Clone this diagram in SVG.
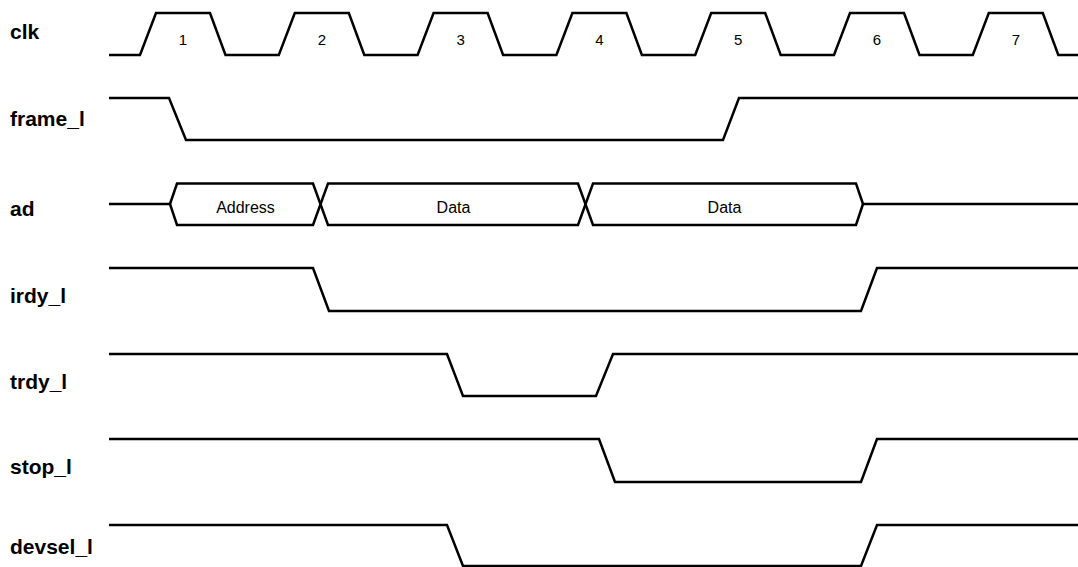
<svg xmlns="http://www.w3.org/2000/svg" width="1078" height="567" viewBox="0 0 1078 567">
<style>
.w{fill:none;stroke:#000;stroke-width:2.5;stroke-linejoin:miter}
.lbl{font-family:"Liberation Sans",Arial,sans-serif;font-weight:bold;font-size:21px;fill:#000}
.num{font-family:"Liberation Sans",Arial,sans-serif;font-size:15px;fill:#000;text-anchor:middle}
.dat{font-family:"Liberation Sans",Arial,sans-serif;font-size:16px;fill:#000;text-anchor:middle}
</style>
<rect width="1078" height="567" fill="#fff"/>
<g id="clk">
<text class="lbl" x="10" y="39">clk</text>
<path class="w" d="M109,55 L140,55 L156,13 L210,13 L225.5,55 L278.8,55 L294.8,13 L348.8,13 L364.3,55 L417.6,55 L433.6,13 L487.6,13 L503.1,55 L556.4,55 L572.4,13 L626.4,13 L641.9,55 L695.2,55 L711.2,13 L765.2,13 L780.7,55 L834,55 L850,13 L904,13 L919.5,55 L972.8,55 L988.8,13 L1042.8,13 L1058.3,55 L1078,55"/>
<text class="num" x="183" y="45">1</text>
<text class="num" x="321.8" y="45">2</text>
<text class="num" x="460.6" y="45">3</text>
<text class="num" x="599.4" y="45">4</text>
<text class="num" x="738.2" y="45">5</text>
<text class="num" x="877" y="45">6</text>
<text class="num" x="1015.8" y="45">7</text>
</g>
<g id="frame_l">
<text class="lbl" x="10" y="126">frame_l</text>
<path class="w" d="M109,98 L169,98 L186,140 L723,140 L739,98 L1078,98"/>
</g>
<g id="ad">
<text class="lbl" x="10" y="216">ad</text>
<path class="w" d="M170,204 L177,183.5 L313,183.5 L328,225 L578,225 L593,183.5 L856,183.5 L863,204 L1078,204"/>
<path class="w" d="M109,204 L170,204 L177,225 L313,225 L328,183.5 L578,183.5 L593,225 L856,225 L863,204"/>
<text class="dat" x="245.5" y="212.5">Address</text>
<text class="dat" x="453.5" y="212.5">Data</text>
<text class="dat" x="724.5" y="212.5">Data</text>
</g>
<g id="irdy_l">
<text class="lbl" x="10" y="303">irdy_l</text>
<path class="w" d="M109,268 L313,268 L329,311 L861,311 L877,268 L1078,268"/>
</g>
<g id="trdy_l">
<text class="lbl" x="10" y="389">trdy_l</text>
<path class="w" d="M109,354 L447,354 L463,396 L596,396 L613,354 L1078,354"/>
</g>
<g id="stop_l">
<text class="lbl" x="10" y="474">stop_l</text>
<path class="w" d="M109,439 L599,439 L615,482 L861,482 L877,439 L1078,439"/>
</g>
<g id="devsel_l">
<text class="lbl" x="10" y="554">devsel_l</text>
<path class="w" d="M109,525 L447,525 L463,566 L861,566 L877,525 L1078,525"/>
</g>
</svg>
